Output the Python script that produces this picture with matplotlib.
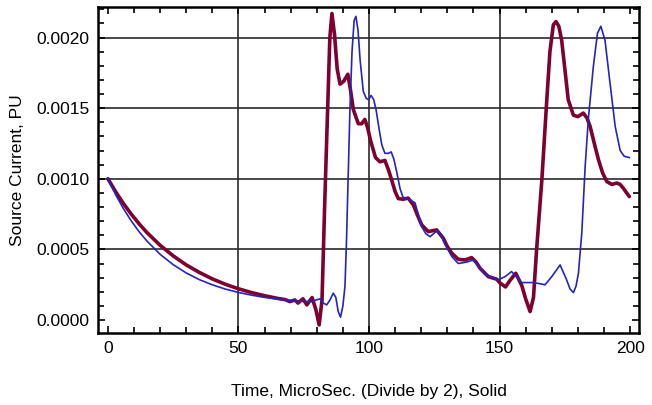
import matplotlib
matplotlib.use("Agg")
import matplotlib.pyplot as plt
from matplotlib.ticker import MultipleLocator, FormatStrFormatter

plt.rcParams.update({'font.size': 12, 'font.family': ['Liberation Sans', 'DejaVu Sans']})

# time axis (us) and source current (PU), red = thick solid trace
t_red = [0, 3, 6, 9, 12, 15, 20, 25, 30, 35, 40, 45, 50, 55, 60, 65, 68,
         69.7, 71.6, 72.8, 74.7, 76.2, 78.2, 79.7, 80.9, 82.0, 83.0, 84.0,
         85.0, 85.8, 86.8, 87.8, 88.9, 90.3, 91.9, 92.9, 94.0, 95.9, 97.2,
         98.4, 99.5, 100.6, 102.5, 104.2, 106.1, 107.5, 108.7, 110.0, 111.2,
         113.0, 115.0, 117.0, 118.5, 120.2, 122.7, 125.9, 128.4, 130.0,
         131.7, 134.2, 136.8, 139.3, 141.0, 142.5, 145.7, 148.9, 150.2,
         152.3, 154.0, 156.2, 158.5, 160.0, 161.7, 163.0, 164.2, 166.2,
         168.1, 169.3, 170.6, 171.6, 172.7, 173.8, 175.0, 176.3, 178.3,
         180.0, 182.1, 183.5, 184.7, 186.3, 187.9, 189.5, 191.1, 193.0,
         194.9, 196.2, 197.4, 199.7]
i_red = [0.00100, 0.000907, 0.000823, 0.000748, 0.000680, 0.000618, 0.000529,
         0.000454, 0.000390, 0.000337, 0.000291, 0.000253, 0.000221, 0.000194,
         0.000172, 0.000153, 0.000144,
         0.000130, 0.000142, 0.000120, 0.000150, 0.000107, 0.000159, 0.000070,
         -0.000035, 0.000140, 0.00080, 0.00140,
         0.00200, 0.00217, 0.00202, 0.00178, 0.00167, 0.00169, 0.00174,
         0.00163, 0.00149, 0.00139, 0.00139,
         0.00142, 0.00136, 0.00127, 0.00115, 0.00112, 0.00113, 0.00106,
         0.00099, 0.00091, 0.00086,
         0.000855, 0.000863, 0.000815, 0.000745, 0.000673, 0.000626, 0.000638,
         0.000580, 0.000520,
         0.000473, 0.000430, 0.000425, 0.000442, 0.000410, 0.000367, 0.000307,
         0.000289, 0.000262,
         0.000234, 0.000280, 0.000331, 0.000245, 0.000150, 0.000060, 0.000160,
         0.000500, 0.000990,
         0.001560, 0.001900, 0.002090, 0.002113, 0.002080, 0.001980, 0.001780,
         0.001560, 0.001450,
         0.001440, 0.001465, 0.001430, 0.001370, 0.001250, 0.001134, 0.001040,
         0.000980, 0.000960,
         0.000970, 0.000960, 0.000933, 0.000874]

# blue = thin trace
t_blue = [0, 3, 6, 9, 12, 15, 20, 25, 30, 35, 40, 45, 50, 55, 60, 65, 70, 75,
          78.0, 79.5, 81.2, 82.5, 83.8, 85.0, 86.3, 87.3, 88.2, 89.1, 90.0,
          90.8, 91.4, 92.0, 92.7, 93.5, 94.3, 95.0, 95.8, 96.6, 97.8, 98.9,
          99.8, 100.8, 101.8, 102.7, 103.8, 104.9, 106.1, 107.4, 108.5, 109.5,
          110.6, 111.9, 113.0, 115.7, 117.6, 119.0, 120.2, 121.8, 123.4,
          125.9, 127.5, 129.0, 131.7, 134.2, 137.4, 140.0, 142.0, 144.0,
          146.4, 149.5, 152.1, 154.6, 156.8, 158.5, 162.9, 166.0, 167.4,
          170.0, 173.2, 175.7, 177.0, 178.3, 179.3, 180.2, 181.5, 182.8,
          184.0, 185.9, 187.5, 188.8, 190.4, 192.3, 194.3, 196.2, 197.7, 199.7]
i_blue = [0.001000, 0.000886, 0.000787, 0.000700, 0.000624, 0.000558, 0.000465,
          0.000392, 0.000333, 0.000286, 0.000249, 0.000219, 0.000195, 0.000176,
          0.000160, 0.000148, 0.000139, 0.000131,
          0.000130, 0.000140, 0.000150, 0.000120, 0.000107, 0.000140, 0.000190,
          0.000160, 0.000060, 0.000020, 0.000100,
          0.000240, 0.000570, 0.001000, 0.001490, 0.001900, 0.002120, 0.002150,
          0.002050, 0.001840, 0.001620, 0.001570,
          0.001560, 0.001590, 0.001560, 0.001490, 0.001360, 0.001240, 0.001180,
          0.001180, 0.001190, 0.001140,
          0.001050, 0.000930, 0.000870, 0.000850, 0.000830, 0.000740, 0.000660,
          0.000610, 0.000590,
          0.000630, 0.000610, 0.000540, 0.000450, 0.000400, 0.000410, 0.000425,
          0.000380, 0.000330,
          0.000307, 0.000284, 0.000307, 0.000343, 0.000300, 0.000265, 0.000265,
          0.000255, 0.000249,
          0.000307, 0.000390, 0.000284, 0.000220, 0.000194, 0.000240, 0.000330,
          0.000615, 0.001090,
          0.001420, 0.001790, 0.002030, 0.002080, 0.001980, 0.001680, 0.001370,
          0.001200, 0.001160, 0.001150]

x_grid = [50, 100, 150]
y_grid = [0.0005, 0.0010, 0.0015, 0.0020]

fig = plt.figure(figsize=(6.52, 4.05), dpi=100)
ax = fig.add_axes([0.1503, 0.178, 0.8297, 0.805])

for xv in x_grid:
    ax.axvline(xv, color='#2a2a2a', lw=1.2, zorder=1)
for yv in y_grid:
    ax.axhline(yv, color='#2a2a2a', lw=1.2, zorder=1)

ax.plot(t_red, i_red, color='#7d0030', lw=2.6, solid_joinstyle='round',
        solid_capstyle='round', zorder=2)
ax.plot(t_blue, i_blue, color='#2424c0', lw=1.2, solid_joinstyle='round', zorder=3)

ax.set_xlim(-3.8, 203.4)
ax.set_ylim(-0.0000914, 0.002217)

ax.xaxis.set_major_locator(MultipleLocator(50))
ax.xaxis.set_minor_locator(MultipleLocator(10))
ax.yaxis.set_major_locator(MultipleLocator(0.0005))
ax.yaxis.set_minor_locator(MultipleLocator(0.0001))
ax.yaxis.set_major_formatter(FormatStrFormatter('%.4f'))

ax.tick_params(which='both', direction='in', top=True, right=True, width=1.2,
               labelsize=12.5, color='black')
ax.tick_params(which='major', length=5, pad=6)
ax.tick_params(which='minor', length=4)
for s in ax.spines.values():
    s.set_linewidth(1.8)

ax.set_xlabel('Time, MicroSec. (Divide by 2), Solid', fontsize=12.5, labelpad=20)
ax.set_ylabel('Source Current, PU', fontsize=12.5, labelpad=8)

plt.savefig('out.png', dpi=100)
